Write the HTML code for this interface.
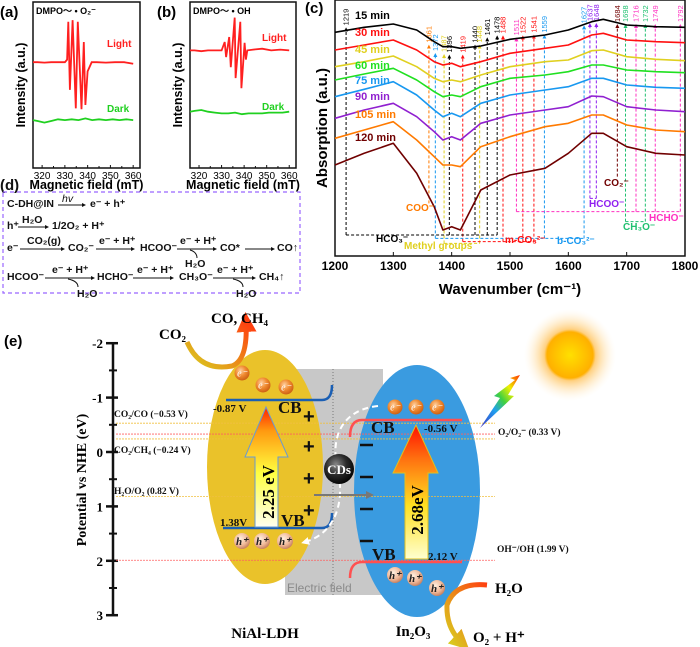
<!DOCTYPE html>
<html><head><meta charset="utf-8"><style>
html,body{margin:0;padding:0;background:#fff;}
svg{display:block;}
.sb{font-family:"Liberation Sans",sans-serif;font-weight:bold;}
.sf{font-family:"Liberation Serif",serif;font-weight:bold;}
</style></head><body>
<svg id="fig" width="700" height="647" viewBox="0 0 700 647" xmlns="http://www.w3.org/2000/svg">
<defs>
<linearGradient id="yArrow" x1="0" y1="1" x2="0" y2="0"><stop offset="0" stop-color="#fffff0"/><stop offset="0.45" stop-color="#ffff40"/><stop offset="0.8" stop-color="#ff9a10"/><stop offset="1" stop-color="#ff2000"/></linearGradient>
<linearGradient id="bArrow" x1="0" y1="1" x2="0" y2="0"><stop offset="0" stop-color="#ffffd0"/><stop offset="0.4" stop-color="#ffe020"/><stop offset="0.75" stop-color="#ff7010"/><stop offset="1" stop-color="#ff1000"/></linearGradient>
<radialGradient id="eBall" cx="0.4" cy="0.35" r="0.7"><stop offset="0" stop-color="#ffd0a0"/><stop offset="0.5" stop-color="#f08a30"/><stop offset="1" stop-color="#c85a10"/></radialGradient>
<radialGradient id="hBall" cx="0.4" cy="0.35" r="0.7"><stop offset="0" stop-color="#fff0e0"/><stop offset="0.6" stop-color="#f0b898"/><stop offset="1" stop-color="#c07858"/></radialGradient>
<radialGradient id="cdBall" cx="0.4" cy="0.35" r="0.7"><stop offset="0" stop-color="#888"/><stop offset="0.5" stop-color="#2a2a2a"/><stop offset="1" stop-color="#000"/></radialGradient>
<radialGradient id="sunG" cx="0.5" cy="0.5" r="0.5"><stop offset="0" stop-color="#ffe000"/><stop offset="0.5" stop-color="#ffb000"/><stop offset="0.56" stop-color="#ffd080"/><stop offset="1" stop-color="#fff4e0" stop-opacity="0"/></radialGradient>
<linearGradient id="bolt" x1="0" y1="1" x2="1" y2="0"><stop offset="0" stop-color="#4030c0"/><stop offset="0.35" stop-color="#20a0f0"/><stop offset="0.55" stop-color="#40d040"/><stop offset="0.75" stop-color="#f0f000"/><stop offset="1" stop-color="#ff3000"/></linearGradient>
<linearGradient id="curvA" x1="0" y1="1" x2="1" y2="0"><stop offset="0" stop-color="#d8d020"/><stop offset="1" stop-color="#ff4010"/></linearGradient>
<marker id="ah" viewBox="0 0 10 10" refX="5" refY="5" markerWidth="4" markerHeight="4" orient="auto-start-reverse"><path d="M0,0 L10,5 L0,10 z" fill="context-stroke"/></marker>
</defs>
<g id="pa"></g>
<g id="pb"></g>
<g id="pc"></g>

<!-- panel d -->
<g class="sb" font-size="10.5" fill="#111">
<text x="0" y="190" font-size="15">(d)</text>
<rect x="3" y="192" width="297" height="101" fill="none" stroke="#9966ff" stroke-dasharray="4,3" stroke-width="1.2"/>
<g font-weight="bold">
<text x="7" y="207">C-DH@IN</text><line x1="58" y1="205" x2="84" y2="205" stroke="#111" marker-end="url(#ah)"/><text x="62" y="202" font-style="italic" font-weight="normal">hv</text><text x="90" y="207">e⁻ + h⁺</text>
<text x="7" y="229">h⁺</text><line x1="18" y1="227" x2="47" y2="227" stroke="#111" marker-end="url(#ah)"/><text x="22" y="223">H₂O</text><text x="52" y="229">1/2O₂ + H⁺</text>
<text x="7" y="251">e⁻</text><line x1="20" y1="249" x2="63" y2="249" stroke="#111" marker-end="url(#ah)"/><text x="27" y="244">CO₂(g)</text><text x="68" y="251">CO₂⁻</text>
<line x1="96" y1="249" x2="133" y2="249" stroke="#111" marker-end="url(#ah)"/><text x="99" y="244">e⁻ + H⁺</text><text x="140" y="251">HCOO⁻</text>
<line x1="177" y1="249" x2="215" y2="249" stroke="#111" marker-end="url(#ah)"/><text x="180" y="244">e⁻ + H⁺</text><path d="M190,250 Q197,252 197,258" fill="none" stroke="#111"/><text x="185" y="267">H₂O</text><text x="220" y="251">CO*</text>
<line x1="245" y1="249" x2="273" y2="249" stroke="#111" marker-end="url(#ah)"/><text x="277" y="251">CO↑</text>
<text x="7" y="280">HCOO⁻</text><line x1="45" y1="278" x2="93" y2="278" stroke="#111" marker-end="url(#ah)"/><text x="52" y="273">e⁻ + H⁺</text><path d="M68,279 Q78,281 78,287" fill="none" stroke="#111"/><text x="77" y="297">H₂O</text>
<text x="97" y="280">HCHO⁻</text><line x1="133" y1="278" x2="172" y2="278" stroke="#111" marker-end="url(#ah)"/><text x="137" y="273">e⁻ + H⁺</text><text x="179" y="280">CH₃O⁻</text>
<line x1="213" y1="278" x2="254" y2="278" stroke="#111" marker-end="url(#ah)"/><text x="217" y="273">e⁻ + H⁺</text><path d="M233,279 Q243,281 243,287" fill="none" stroke="#111"/><text x="236" y="297">H₂O</text><text x="259" y="280">CH₄↑</text>
</g>
</g>

<!-- panel e -->
<g id="pe">
<text x="4" y="346" class="sb" font-size="15">(e)</text>
<g id="eaxis"></g>
<text transform="translate(86,480) rotate(-90)" text-anchor="middle" class="sf" font-size="14">Potential vs NHE (eV)</text>
<rect x="285" y="369" width="98" height="226" fill="#c8c8c8"/>
<line x1="333" y1="369" x2="333" y2="595" stroke="#777" stroke-dasharray="1,2"/>
<text x="287" y="592" font-family="Liberation Sans,sans-serif" font-size="12" fill="#8a8a8a">Electric field</text>
<ellipse cx="265" cy="467" rx="58" ry="117" fill="#eac22a"/>
<ellipse cx="417" cy="491" rx="63" ry="126" fill="#3a9be0"/>
<g id="reflines"></g>
<g class="sf" font-size="9.5" fill="#111">
<text x="114" y="417">CO₂/CO (−0.53 V)</text>
<text x="114" y="453">CO₂/CH₄ (−0.24 V)</text>
<text x="114" y="494">H₂O/O₂ (0.82 V)</text>
<text x="498" y="435">O₂/O₂⁻ (0.33 V)</text>
<text x="497" y="552">OH⁻/OH (1.99 V)</text>
</g>
<path d="M226,400 L322,400 Q332,400 332,385" fill="none" stroke="#1a5fb4" stroke-width="2.5"/>
<path d="M223,528 L322,528 Q332,528 332,513" fill="none" stroke="#1a5fb4" stroke-width="2.5"/>
<path d="M350,437 Q350,420 362,420 L462,420" fill="none" stroke="#ff5050" stroke-width="2.5"/>
<path d="M350,578 Q350,562 362,562 L462,562" fill="none" stroke="#ff5050" stroke-width="2.5"/>
<path d="M255,527 L255,457 L245,457 L266,407 L288,457 L278,457 L278,527 Z" fill="url(#yArrow)" stroke="#6a9ad0" stroke-width="1"/>
<text transform="translate(274,492) rotate(-90)" text-anchor="middle" class="sf" font-size="17">2.25 eV</text>
<path d="M405,559 L405,473 L393,473 L416,425 L438,473 L428,473 L428,559 Z" fill="url(#bArrow)" stroke="#e0c020" stroke-width="1"/>
<text transform="translate(423,510) rotate(-90)" text-anchor="middle" class="sf" font-size="17">2.68eV</text>
<g class="sf" fill="#111">
<text x="213" y="412" font-size="11">-0.87 V</text>
<text x="278" y="413" font-size="17">CB</text>
<text x="220" y="526" font-size="11">1.38V</text>
<text x="281" y="526" font-size="17">VB</text>
<text x="371" y="433" font-size="17">CB</text>
<text x="424" y="432" font-size="11">-0.56 V</text>
<text x="372" y="560" font-size="17">VB</text>
<text x="428" y="560" font-size="11">2.12 V</text>
</g>
<g class="sb" font-size="20" fill="#111">
<text x="303" y="423">+</text><text x="303" y="453">+</text><text x="303" y="485">+</text><text x="303" y="517">+</text>
</g>
<g stroke="#111" stroke-width="2.5">
<line x1="360" y1="445" x2="373" y2="445"/><line x1="360" y1="477" x2="373" y2="477"/><line x1="360" y1="509" x2="373" y2="509"/><line x1="360" y1="541" x2="373" y2="541"/>
</g>
<g id="carriers"></g>
<path d="M378,406 C340,410 330,440 338,470 C346,510 330,535 305,542" fill="none" stroke="#fff" stroke-width="2" stroke-dasharray="6,4" marker-end="url(#ah)"/>
<circle cx="339" cy="469" r="15" fill="url(#cdBall)"/>
<text x="339" y="474" text-anchor="middle" class="sf" font-size="13" fill="#fff">CDs</text>
<line x1="314" y1="495" x2="370" y2="495" stroke="#777" stroke-width="2" marker-end="url(#ah)"/>
<path d="M187,342 Q200,372 232,366 Q248,360 246,322" fill="none" stroke="url(#curvA)" stroke-width="5" marker-end="url(#ah)"/>
<text x="159" y="339" class="sf" font-size="15">CO₂</text>
<text x="211" y="323" class="sf" font-size="15">CO, CH₄</text>
<path d="M487,585 Q455,582 447,605 Q446,628 462,643" fill="none" stroke="url(#curvA)" stroke-width="5" marker-end="url(#ah)"/>
<text x="495" y="593" class="sf" font-size="15">H₂O</text>
<text x="473" y="642" class="sf" font-size="15">O₂ + H⁺</text>
<text x="265" y="638" text-anchor="middle" class="sf" font-size="15">NiAl-LDH</text>
<text x="413" y="636" text-anchor="middle" class="sf" font-size="15">In₂O₃</text>
<circle cx="570" cy="355" r="46" fill="url(#sunG)"/>
<path d="M480,428 L500,398 L494,396 L515,380 L510,378 L520,375 L508,395 L514,396 Z" fill="url(#bolt)"/>
</g>
<script>
const NS="http://www.w3.org/2000/svg";
function mk(p,t,a){const e=document.createElementNS(NS,t);for(const k in a)e.setAttribute(k,a[k]);p.appendChild(e);return e;}
// ===== EPR data =====
const eprAField=[315,318,321,324,327,330,331,331.5,332.2,333.4,334.8,335.7,337.3,338.3,339,340,341.8,344,348,352,356,360];
const eprALight=[2.6,2.6,2.55,2.6,2.6,2.6,2.9,7.4,-0.7,7.6,-2.9,7.4,-3.0,5.0,-2.5,1.5,2.6,2.6,2.55,2.6,2.6,2.4];
const eprADarkField=[315,318,321,324,327,330,333,336,339,342,345,348,351,354,357,360];
const eprADark=[-4.3,-4.4,-4.6,-4.4,-4.2,-4.3,-4.2,-4.3,-4.1,-4.3,-4.2,-4.3,-4.2,-4.3,-4.2,-4.3];
const eprBField=[315,318,321,324,327,330,331.4,332,333.4,334.1,335.8,336.2,338.3,338.8,340.2,340.8,341.4,344,348,352,356,360];
const eprBLight=[4.0,4.0,3.9,4.0,4.0,4.0,5.0,3.2,5.6,2.0,7.9,0.7,7.4,-0.5,4.9,2.9,4.0,4.1,4.2,4.0,4.1,4.0];
const eprBDarkField=[315,318,321,324,327,330,333,336,339,342,345,348,351,354,357,360];
const eprBDark=[-3.3,-3.2,-3.1,-3.3,-3.4,-3.5,-3.5,-3.4,-3.6,-3.5,-3.5,-3.5,-3.4,-3.4,-3.4,-3.3];
const eprTicks=[320,330,340,350,360];
function epr(g,x0,x1,label,title,light,lf,dark,df,lightLab,darkLab){
  const top=2,bot=168;
  const k=(x1-x0)/47, xs=v=>x0+(v-316)*k, ys=v=>84-v*8.4;
  mk(g,'rect',{x:x0,y:top,width:x1-x0,height:bot-top,fill:'none',stroke:'#111','stroke-width':1.5});
  let p=lf.map((f,i)=>xs(Math.max(f,316)).toFixed(1)+','+ys(light[i]).toFixed(1)).join(' ');
  const l=mk(g,'polyline',{points:p,fill:'none',stroke:'#ff2020','stroke-width':1.8});
  
  
  p=df.map((f,i)=>xs(Math.max(f,316)).toFixed(1)+','+ys(dark[i]).toFixed(1)).join(' ');
  const d=mk(g,'polyline',{points:p,fill:'none',stroke:'#20d020','stroke-width':1.8});
  
  
  eprTicks.forEach(t=>{mk(g,'line',{x1:xs(t),y1:bot,x2:xs(t),y2:bot-3,stroke:'#111'});
    const tx=mk(g,'text',{x:xs(t),y:bot+11,'text-anchor':'middle','font-family':'Liberation Sans,sans-serif','font-size':10});tx.textContent=t;
    
    });
  [325,335,345,355].forEach(t=>mk(g,'line',{x1:xs(t),y1:bot,x2:xs(t),y2:bot-2,stroke:'#111'}));
  let t=mk(g,'text',{x:(x0+x1)/2,y:189,'text-anchor':'middle',class:'sb','font-size':12.5});t.textContent='Magnetic field (mT)';
  
  
  t=mk(g,'text',{transform:`translate(${x0-8},85) rotate(-90)`,'text-anchor':'middle',class:'sb','font-size':12.5});t.textContent='Intensity (a.u.)';
  
  
  t=mk(g,'text',{x:x0-33,y:17,class:'sb','font-size':15});t.textContent=label;
  
  
  t=mk(g,'text',{x:x0+3,y:14,class:'sb','font-size':9});t.textContent=title;
  
  
  t=mk(g,'text',{x:lightLab[0],y:lightLab[1],class:'sb','font-size':10,fill:'#ff2020'});t.textContent='Light';
  
  
  t=mk(g,'text',{x:darkLab[0],y:darkLab[1],class:'sb','font-size':10,fill:'#20d020'});t.textContent='Dark';
  
  
}
epr(document.getElementById('pa'),33,140,'(a)','DMPO〜 • O₂⁻',eprALight,eprAField,eprADark,eprADarkField,[107,47],[107,112]);
epr(document.getElementById('pb'),190,296,'(b)','DMPO〜 • OH',eprBLight,eprBField,eprBDark,eprBDarkField,[262,41],[262,110]);

// ===== FTIR data =====
const wavenumbers=[1200,1250,1300,1340,1370,1385,1400,1415,1450,1500,1560,1600,1640,1660,1700,1750,1800];
const times=['15 min','30 min','45 min','60 min','75 min','90 min','105 min','120 min'];
const s15=[7.03,7.18,7.28,7.10,6.75,6.60,6.60,6.55,6.62,6.82,6.95,7.10,7.35,7.42,7.25,7.20,7.18];
const s30=[6.50,6.65,6.80,6.50,6.15,6.05,6.10,6.00,6.15,6.40,6.55,6.65,6.95,7.00,6.80,6.75,6.72];
const s45=[6.00,6.15,6.32,6.00,5.65,5.55,5.60,5.55,5.75,6.00,6.15,6.20,6.48,6.50,6.30,6.22,6.18];
const s60=[5.60,5.78,5.95,5.60,5.25,5.10,5.15,5.10,5.40,5.65,5.75,5.85,6.05,6.05,5.90,5.85,5.82];
const s75=[5.10,5.32,5.55,5.15,4.70,4.50,4.60,4.50,4.90,5.15,5.30,5.40,5.65,5.65,5.45,5.38,5.35];
const s90=[4.45,4.70,4.90,4.50,4.05,3.80,3.90,3.80,4.30,4.55,4.70,4.80,5.12,5.10,4.80,4.70,4.65];
const s105=[3.85,4.10,4.35,3.80,3.30,3.05,3.05,3.00,3.60,3.90,4.20,4.30,4.55,4.55,4.25,4.10,4.05];
const s120=[3.05,3.40,3.70,2.80,1.80,1.10,1.20,1.10,2.30,2.75,2.95,3.40,4.00,4.00,3.60,3.40,3.35];
const seriesColors=['#000000','#ff1010','#e0d020','#20e020','#1898f0','#9020d0','#ff7a00','#700000'];
const xTicks=[1200,1300,1400,1500,1600,1700,1800];
const peakPos=[1219,1361,1372,1387,1396,1419,1440,1448,1461,1478,1488,1511,1522,1541,1559,1627,1637,1648,1684,1698,1716,1732,1749,1792];
const peakCol=['#000','#ff7a00','#1898f0','#e0d020','#000','#ff1010','#000','#e0d020','#000','#000','#ff1010','#ff30c0','#ff1010','#ff1010','#1898f0','#1898f0','#9020f0','#9020f0','#700000','#20c070','#ff30c0','#20c070','#ff30c0','#ff30c0'];
const peakTip=[88,140,165,168,170,170,140,140,118,112,112,118,112,110,110,82,75,75,78,78,78,78,78,78];
const peakBot=[705,610,715,730,705,725,705,730,705,705,725,635,725,725,715,715,595,595,530,665,635,665,635,635];
(function(){
  const g=document.getElementById('pc');
  const x0=335,x1=685,top=0,bot=256;
  const xs=w=>x0+(w-1200)/600*(x1-x0), ys=v=>(8-v)*100/3, zy=z=>z/3;
  mk(g,'rect',{x:x0,y:top,width:x1-x0,height:bot,fill:'none',stroke:'#111','stroke-width':1.5});
  peakPos.forEach((w,i)=>{
    const ln=mk(g,'line',{x1:xs(w),y1:zy(peakBot[i]),x2:xs(w),y2:zy(peakTip[i]),stroke:peakCol[i],'stroke-width':1,'stroke-dasharray':'3,2','marker-end':'url(#ah)'});
    
    
    const t=mk(g,'text',{transform:`translate(${xs(w)+2.5},${zy(peakTip[i])-4}) rotate(-90)`,'font-family':'Liberation Sans,sans-serif','font-size':7.5,fill:peakCol[i]});
    t.textContent=w;
    
    
  });
  const brackets=[[1219,1478,705,'#000'],[1372,1627,715,'#1898f0'],[1387,1448,730,'#e0d020'],[1419,1541,725,'#ff1010'],[1511,1792,635,'#ff30c0'],[1698,1732,665,'#20c070'],[1637,1648,595,'#9020f0']];
  brackets.forEach(b=>{const l=mk(g,'line',{x1:xs(b[0]),y1:zy(b[2]),x2:xs(b[1]),y2:zy(b[2]),stroke:b[3],'stroke-dasharray':'3,2'});
    
    });
  [s15,s30,s45,s60,s75,s90,s105,s120].forEach((s,i)=>{
    const p=s.map((v,j)=>xs(wavenumbers[j]).toFixed(1)+','+ys(v).toFixed(1)).join(' ');
    const pl=mk(g,'polyline',{points:p,fill:'none',stroke:seriesColors[i],'stroke-width':1.6,'stroke-linejoin':'round'});
    
    
    const t=mk(g,'text',{x:355,y:[19,36,53,69,84,100,118,141][i],class:'sb','font-size':11,fill:seriesColors[i]});
    t.textContent=times[i];
    
    
  });
  const labs=[['HCO₃⁻',376,242,'#000'],['Methyl groups',404,249,'#e0d020'],['m-CO₃²⁻',505,243,'#ff1010'],['b-CO₃²⁻',557,244,'#1898f0'],['COO⁻',406,211,'#ff7a00'],['CO₂⁻',604,186,'#700000'],['HCOO⁻',589,207,'#9020f0'],['CH₃O⁻',623,230,'#20c070'],['HCHO⁻',649,221,'#ff30c0']];
  labs.forEach(l=>{const t=mk(g,'text',{x:l[1],y:l[2],class:'sb','font-size':10,fill:l[3]});t.textContent=l[0];
    
    });
  xTicks.forEach(w=>{mk(g,'line',{x1:xs(w),y1:bot,x2:xs(w),y2:bot-4,stroke:'#111'});
    const t=mk(g,'text',{x:xs(w),y:bot+14,'text-anchor':'middle',class:'sb','font-size':12});t.textContent=w;
    
    });
  let t=mk(g,'text',{x:(x0+x1)/2,y:294,'text-anchor':'middle',class:'sb','font-size':15});t.textContent='Wavenumber (cm⁻¹)';
  
  
  t=mk(g,'text',{transform:'translate(327,128) rotate(-90)','text-anchor':'middle',class:'sb','font-size':15});t.textContent='Absorption (a.u.)';
  
  
  t=mk(g,'text',{x:305,y:13,class:'sb','font-size':15});t.textContent='(c)';
  
  
})();

// ===== Band diagram =====
const potTicks=[-2,-1,0,1,2,3];
const refPot=[-0.53,-0.33,-0.24,0.82,1.99];
const refCol=['#f0c040','#ff6060','#f0c040','#f0c040','#ff6060'];
(function(){
  const g=document.getElementById('eaxis');
  const ys=v=>452+v*54.4;
  mk(g,'line',{x1:113,y1:ys(-2),x2:113,y2:ys(3),stroke:'#111','stroke-width':2.5});
  potTicks.forEach(v=>{mk(g,'line',{x1:106,y1:ys(v),x2:118,y2:ys(v),stroke:'#111','stroke-width':2.5});
    const t=mk(g,'text',{x:103,y:ys(v)+5,'text-anchor':'end',class:'sf','font-size':13});t.textContent=v;
    
    });
  for(let v=-1.5;v<3;v+=1) mk(g,'line',{x1:109,y1:ys(v),x2:117,y2:ys(v),stroke:'#111','stroke-width':2});
  const r=document.getElementById('reflines');
  refPot.forEach((v,i)=>{const l=mk(r,'line',{x1:116,y1:ys(v),x2:495,y2:ys(v),stroke:refCol[i],'stroke-width':0.8,'stroke-dasharray':'2,1'});
    
    });
  const c=document.getElementById('carriers');
  const es=[[242,373],[263,385],[286,387],[395,407],[416,407],[437,407]];
  const hs=[[242,541],[262,541],[285,541],[395,575],[415,578],[437,588]];
  es.forEach(p=>{const b=mk(c,'circle',{cx:p[0],cy:p[1],r:7.5,fill:'url(#eBall)'});
    
    
    const t=mk(c,'text',{x:p[0],y:p[1]+3.5,'text-anchor':'middle','font-family':'Liberation Serif,serif','font-style':'italic','font-size':10,fill:'#fff'});t.textContent='e⁻';});
  hs.forEach(p=>{const b=mk(c,'circle',{cx:p[0],cy:p[1],r:8,fill:'url(#hBall)'});
    
    
    const t=mk(c,'text',{x:p[0],y:p[1]+4,'text-anchor':'middle','font-family':'Liberation Serif,serif','font-style':'italic','font-weight':'bold','font-size':11,fill:'#222'});t.textContent='h⁺';});
})();
</script>
</svg>
</body></html>
